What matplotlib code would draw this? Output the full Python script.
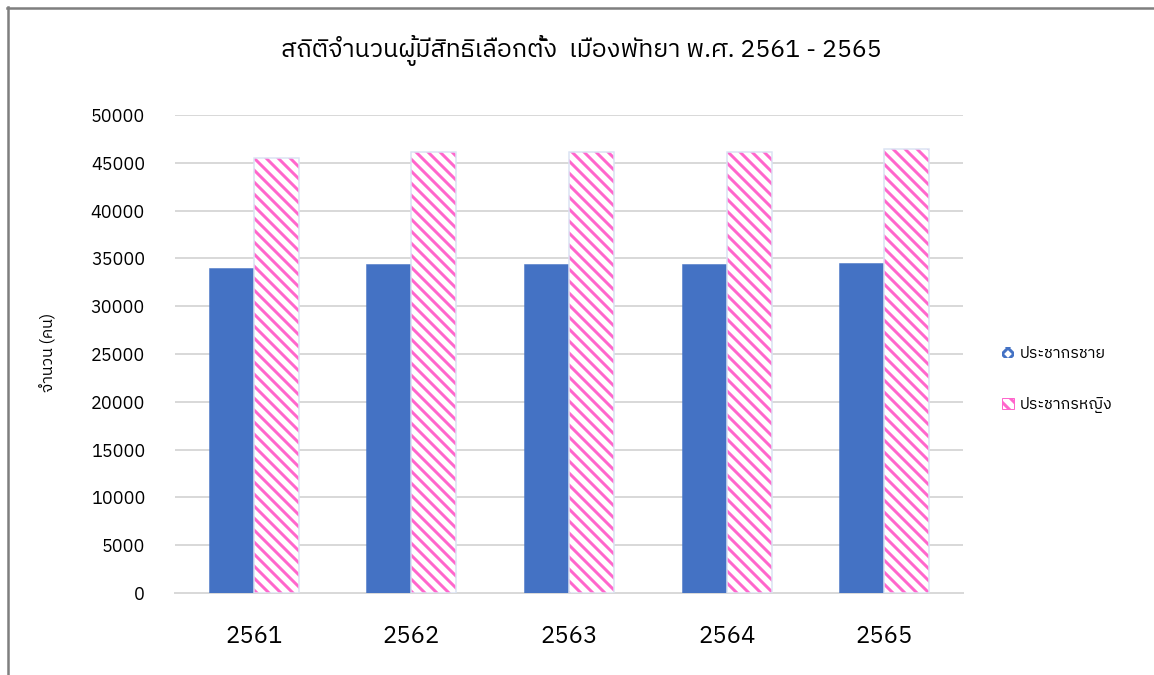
import matplotlib
matplotlib.use("Agg")
import matplotlib.pyplot as plt
from matplotlib import font_manager as fm
from matplotlib.lines import Line2D
from matplotlib.patches import Patch
import numpy as np

# ข้อมูล
years = ["2561", "2562", "2563", "2564", "2565"]
male = [34000, 34400, 34400, 34400, 34550]
female = [45500, 46100, 46100, 46100, 46450]
series_names = ["ประชากรชาย", "ประชากรหญิง"]
title = "สถิติจำนวนผู้มีสิทธิเลือกตั้ง  เมืองพัทยา พ.ศ. 2561 - 2565"
ylabel = "จำนวน (คน)"

# หาฟอนต์ที่มีอักษรไทย
names = sorted({f.name for f in fm.fontManager.ttflist})
thai = [n for n in names if any(k in n for k in ("Thai", "Tahoma", "Leelawadee", "Loma", "Garuda", "Sarabun", "Kinnari", "Norasi"))]
plt.rcParams["font.family"] = thai + ["DejaVu Sans"]
plt.rcParams["hatch.linewidth"] = 3.0

BLUE = "#4472C4"
PINK = "#FF66CC"
EDGE = "#DAE3F3"
GRID = "#D9D9D9"

DPI = 72
fig = plt.figure(figsize=(1154 / DPI, 675 / DPI), dpi=DPI)
ax = fig.add_axes([175 / 1154, 1 - 593 / 675, (963 - 175) / 1154, (593 - 115) / 675])

x = np.arange(len(years))
w = 0.286
ax.bar(x - w / 2, male, w, color=BLUE, edgecolor=BLUE, linewidth=0.5, zorder=3)
ax.bar(x + w / 2, female, w, color="white", edgecolor=PINK, hatch="\\\\", linewidth=0, zorder=3)
ax.bar(x + w / 2, female, w, fill=False, edgecolor=EDGE, linewidth=1.5, zorder=4)

ax.set_xlim(-0.5, len(years) - 0.5)
ax.set_ylim(0, 50000)
ax.set_yticks(np.arange(0, 50001, 5000))
ax.set_xticks(x)
ax.set_xticklabels(years, fontsize=24)
ax.tick_params(axis="y", labelsize=18, length=0, pad=30)
ax.tick_params(axis="x", length=0, pad=32)
ax.yaxis.grid(True, color=GRID, linewidth=2, zorder=0)
for s in ("top", "right", "left"):
    ax.spines[s].set_visible(False)
ax.spines["bottom"].set_color(GRID)
ax.spines["bottom"].set_linewidth(2)

fig.text(581 / 1154, 1 - 50 / 675, title, ha="center", va="center", fontsize=25, color="#000000")
fig.text(48 / 1154, 1 - 352 / 675, ylabel, rotation=90, ha="center", va="center", fontsize=16, color="#000000")

handles = [Patch(facecolor="white", edgecolor=BLUE, hatch="xx", linewidth=0),
           Patch(facecolor="white", edgecolor=PINK, hatch="\\\\", linewidth=1)]
leg = fig.legend(handles, series_names, loc="center left", bbox_to_anchor=(988 / 1154, 1 - 379 / 675),
                 frameon=False, fontsize=16, handlelength=0.7, handleheight=0.7, handletextpad=0.4,
                 labelspacing=2.2)

# กรอบด้านบนและด้านซ้าย
fig.add_artist(Line2D([7 / 1154, 1], [1 - 8 / 675, 1 - 8 / 675], transform=fig.transFigure, color="#7F7F7F", lw=2.5))
fig.add_artist(Line2D([8 / 1154, 8 / 1154], [0, 1 - 7 / 675], transform=fig.transFigure, color="#7F7F7F", lw=2.5))

fig.savefig("out.png", dpi=DPI, facecolor="white")
